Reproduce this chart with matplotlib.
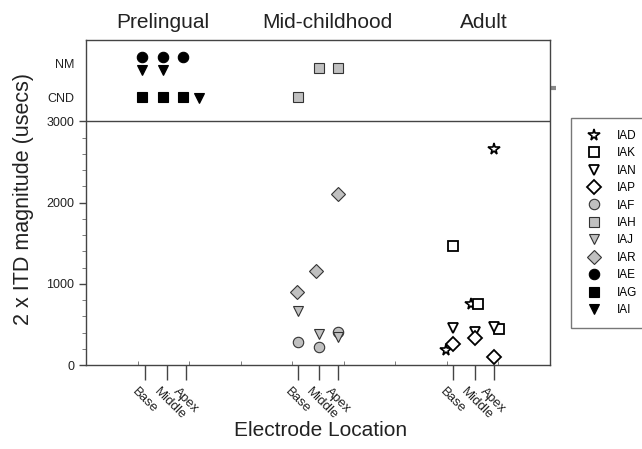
'''
ITD magnitude by electrode location for prelingual, mid-childhood and adult groups
values above 3000 are the CND / NM rows at the top of the panel
'''
import numpy as np
import matplotlib
matplotlib.use('Agg')
import matplotlib.pyplot as plt
import matplotlib.transforms as mtransforms
from matplotlib.ticker import FixedLocator

plt.rcParams['font.family'] = ['Liberation Sans', 'DejaVu Sans']

groups     =  ['Prelingual', 'Mid-childhood', 'Adult']
locations  =  ['Base', 'Middle', 'Apex']

# 2 x ITD (usecs) at Base / Middle / Apex
iad  =  [185, 750, 2660]
iak  =  [1465, 750, 445]
ian  =  [450, 410, 465]
iap  =  [260, 330, 95]
iaf  =  [285, 220, 410]
iah  =  [3300, 3650, 3650]
iaj  =  [660, 380, 345]
iar  =  [895, 1155, 2105]
iae  =  [3790, 3790, 3790]
iag  =  [3300, 3300, 3300]
iai  =  [3630, 3630, 3290]

subjects   =  ['IAD', 'IAK', 'IAN', 'IAP', 'IAF', 'IAH', 'IAJ', 'IAR', 'IAE', 'IAG', 'IAI']
values     =  [iad, iak, ian, iap, iaf, iah, iaj, iar, iae, iag, iai]
group_of   =  [2, 2, 2, 2, 1, 1, 1, 1, 0, 0, 0]

# y positions of the two text rows
cnd_y  =  3290
nm_y   =  3715


def paint():
    gray  =  '#c0c0c0'
    style = {
        'IAD': ('*', 'white', 'k', 1.2),
        'IAK': ('s', 'white', 'k', 1.3),
        'IAN': ('v', 'white', 'k', 1.3),
        'IAP': ('D', 'white', 'k', 1.3),
        'IAF': ('o', gray, '#333333', 0.8),
        'IAH': ('s', gray, '#333333', 0.8),
        'IAJ': ('v', gray, '#333333', 0.8),
        'IAR': ('D', gray, '#333333', 0.8),
        'IAE': ('o', 'k', 'k', 0.8),
        'IAG': ('s', 'k', 'k', 0.8),
        'IAI': ('v', 'k', 'k', 0.8),
    }
    size  =  {'*': 8.5, 's': 7.2, 'v': 7.5, 'D': 6.8, 'o': 7.5}

    # tick positions of base / middle / apex in each group (axis runs 0..9)
    loc_x  =  np.array([[1.14, 1.57, 1.94],
                        [4.11, 4.52, 4.89],
                        [7.12, 7.54, 7.91]])
    # small shifts so overlapping markers stay visible
    shift  =  {'IAD': [-0.14, -0.07, 0], 'IAK': [0, 0.06, 0.1],
               'IAE': [-0.06, -0.08, -0.05], 'IAG': [-0.06, -0.08, -0.05],
               'IAI': [-0.06, -0.08, 0.25], 'IAR': [-0.02, -0.06, 0]}

    fig  =  plt.figure(figsize=(6.42, 4.49), dpi=100)
    ax   =  fig.add_axes([86/642, 84/449, 464/642, 325/449])

    handles = []
    for name, vals, g in zip(subjects, values, group_of):
        m, fc, ec, mew = style[name]
        xs  =  loc_x[g] + np.array(shift.get(name, [0, 0, 0]))
        h,  =  ax.plot(xs, vals, ls='none', marker=m, ms=size[m], mfc=fc, mec=ec,
                       mew=mew, label=name, clip_on=False, zorder=3)
        handles.append(h)

    ax.axhline(3000, color='#444444', lw=1)

    ax.set_xlim(0, 9)
    ax.set_ylim(0, 4000)

    for sp in ax.spines.values():
        sp.set_color('#444444')
        sp.set_linewidth(1)

    # x ticks
    ax.set_xticks(loc_x.flatten())
    ax.set_xticklabels(locations * 3)
    ax.xaxis.set_minor_locator(FixedLocator(np.arange(1, 9)))
    ax.tick_params(axis='x', which='major', direction='out', length=11, width=1,
                   color='#444444', labelsize=9.5, pad=4, labelcolor='#222222')
    ax.tick_params(axis='x', which='minor', direction='in', length=3, color='#666666')
    offset  =  mtransforms.ScaledTranslation(-0.07, 0, fig.dpi_scale_trans)
    for lab in ax.get_xticklabels():
        lab.set_rotation(-45)
        lab.set_ha('left')
        lab.set_va('top')
        lab.set_rotation_mode('anchor')
        lab.set_transform(lab.get_transform() + offset)

    # y ticks
    ax.set_yticks([0, 1000, 2000, 3000, cnd_y, nm_y])
    ax.set_yticklabels(['0', '1000', '2000', '3000', 'CND', 'NM'])
    ax.yaxis.set_minor_locator(FixedLocator([v for v in range(200, 3000, 200) if v % 1000]))
    ax.tick_params(axis='y', which='major', direction='out', length=5, width=1,
                   color='#444444', labelsize=9, labelcolor='#222222')
    ax.tick_params(axis='y', which='minor', direction='out', length=3, color='#666666')
    for t in ax.yaxis.get_major_ticks()[4:]:
        t.tick1line.set_visible(False)

    ax.set_ylabel('2 x ITD magnitude (usecs)', fontsize=15.5, color='#222222')
    ax.yaxis.set_label_coords(-0.112, 0.51)
    ax.set_xlabel('Electrode Location', fontsize=15, color='#222222')
    ax.xaxis.set_label_coords(0.505, -0.172)

    # group titles
    for name, xpix in zip(groups, [163, 327, 484]):
        fig.text(xpix/642, 1 - 22/449, name, fontsize=15, ha='center', va='center',
                 color='#222222')

    # small mark on right edge
    ax.plot([1.0, 1.014], [0.852, 0.852], transform=ax.transAxes, color='#888888',
            lw=3, clip_on=False, solid_capstyle='butt')

    leg  =  fig.legend(handles=handles, loc='upper left',
                       bbox_to_anchor=(571/642, 1 - 118/449), fontsize=8.5,
                       frameon=True, fancybox=False, edgecolor='#555555',
                       labelspacing=0.46, handletextpad=1.0, borderpad=1.0,
                       handlelength=1.9, borderaxespad=0)
    leg.get_frame().set_linewidth(1)

    fig.savefig('out.png', dpi=100)


if __name__ == "__main__":
    paint()
